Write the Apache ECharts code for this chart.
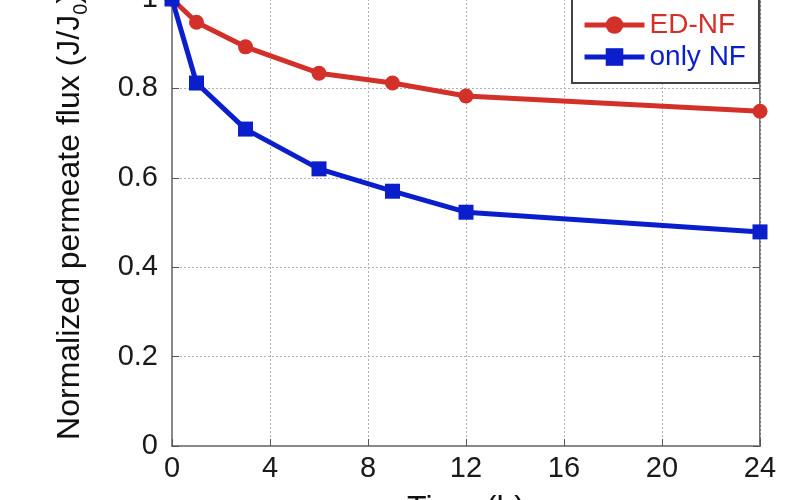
<!DOCTYPE html>
<html>
<head>
<meta charset="utf-8">
<script src="https://cdn.jsdelivr.net/npm/echarts@6/dist/echarts.min.js"></script>
<style>
  html, body { margin: 0; padding: 0; background: #fff; }
  #chart { width: 800px; height: 500px; }
</style>
</head>
<body>
<div id="chart"></div>
<script>
// hours
var timeH = [0, 1, 3, 6, 9, 12, 24];
// normalized flux J/J0
var edNF = [1.0, 0.948, 0.893, 0.834, 0.812, 0.783, 0.749];
var onlyNF = [1.0, 0.812, 0.709, 0.62, 0.57, 0.523, 0.479];
var xTicks = [0, 4, 8, 12, 16, 20, 24];
var yTicks = [0, 0.2, 0.4, 0.6, 0.8, 1];

var RED = "#d4302a";
var BLUE = "#0a1ecc";
var FONT = "Liberation Sans, Arial, sans-serif";

function pairs(xs, ys) {
  var out = [];
  for (var i = 0; i < xs.length; i++) {
    out.push([xs[i], ys[i]]);
  }
  return out;
}

var chart = echarts.init(document.getElementById("chart"), null, {
  renderer: "canvas",
});

var gridLine = {
  show: true,
  lineStyle: { color: "#b0b0b0", type: [2, 2], width: 1 },
};

var option = {
  animation: false,
  backgroundColor: "#fff",
  grid: {
    left: 172,
    right: 40,
    top: -1,
    bottom: 54,
    outerBoundsMode: "none",
    containLabel: false,
    show: true,
    borderColor: "#444",
    borderWidth: 1.5,
  },
  legend: {
    orient: "vertical",
    left: 572,
    top: -2,
    padding: [13, 13, 12, 10],
    itemWidth: 60,
    itemHeight: 22,
    itemGap: 4,
    borderColor: "#444",
    borderWidth: 2,
    backgroundColor: "#fff",
    textStyle: { fontSize: 28, fontFamily: FONT },
    data: [
      { name: "ED-NF", textStyle: { color: RED }, lineStyle: { width: 5, color: RED } },
      { name: "only NF", textStyle: { color: BLUE }, lineStyle: { width: 5, color: BLUE } },
    ],
  },
  xAxis: {
    type: "value",
    min: 0,
    max: 24,
    interval: 4,
    name: "Time (h)",
    nameLocation: "middle",
    nameGap: 47,
    nameTextStyle: { fontSize: 32, color: "#111", fontFamily: FONT },
    axisLine: { show: true, lineStyle: { color: "#888", width: 2 } },
    axisTick: { show: true, inside: true, length: 7, lineStyle: { color: "#555" } },
    axisLabel: {
      fontSize: 29,
      color: "#1a1a1a",
      fontFamily: FONT,
      margin: 8,
      customValues: xTicks,
    },
    splitLine: gridLine,
  },
  yAxis: [
    {
      type: "value",
      min: 0,
      max: 1,
      interval: 0.2,
      name: "{a|Normalized permeate flux (J/J}{s|0}{a|)}",
      nameLocation: "middle",
      nameGap: 81,
      nameTextStyle: {
        fontSize: 32,
        color: "#111",
        fontFamily: FONT,
        padding: [0, 0, 0, 12],
        rich: {
          a: { fontSize: 32, color: "#111", fontFamily: FONT, lineHeight: 41 },
          s: { fontSize: 20, color: "#111", fontFamily: FONT, verticalAlign: "bottom" },
        },
      },
      axisLine: { show: true, lineStyle: { color: "#888", width: 2 } },
      axisTick: { show: true, inside: true, length: 7, lineStyle: { color: "#555" } },
      axisLabel: {
        fontSize: 29,
        color: "#1a1a1a",
        fontFamily: FONT,
        margin: 14,
        padding: [0, 0, 10, 0],
        customValues: yTicks,
      },
      splitLine: gridLine,
    },
    {
      type: "value",
      position: "right",
      min: 0,
      max: 1,
      interval: 0.2,
      axisLine: { show: false },
      axisTick: { show: true, inside: true, length: 7, lineStyle: { color: "#555" } },
      axisLabel: { show: false },
      splitLine: { show: false },
    },
  ],
  series: [
    {
      name: "ED-NF",
      type: "line",
      data: pairs(timeH, edNF),
      clip: false,
      symbol: "circle",
      symbolSize: 15,
      lineStyle: { color: RED, width: 5 },
      itemStyle: { color: RED },
    },
    {
      name: "only NF",
      type: "line",
      data: pairs(timeH, onlyNF),
      clip: false,
      symbol: "rect",
      symbolSize: 15,
      lineStyle: { color: BLUE, width: 5 },
      itemStyle: { color: BLUE },
    },
  ],
};

chart.setOption(option);
</script>
</body>
</html>
